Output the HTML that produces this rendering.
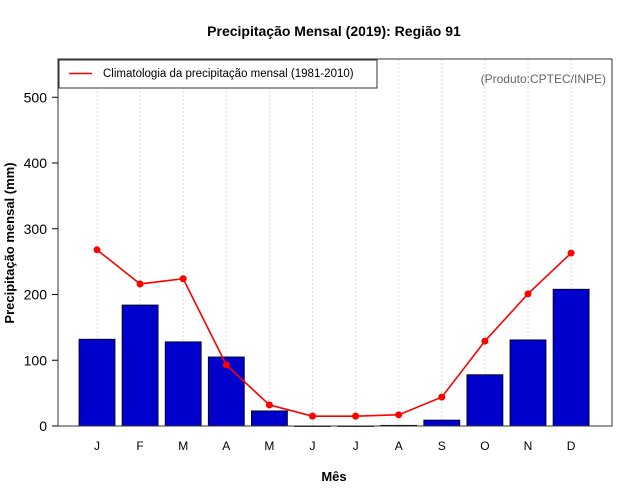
<!DOCTYPE html>
<html><head><meta charset="utf-8"><style>
body{margin:0;background:#fff;}
svg{display:block;font-family:"Liberation Sans",sans-serif;}
</style></head><body>
<svg id="chart" width="640" height="500" viewBox="0 0 640 500">
<text x="334" y="36" text-anchor="middle" font-size="14" font-weight="bold">Precipitação Mensal (2019): Região 91</text>
<text x="334" y="481" text-anchor="middle" font-size="13" font-weight="bold">Mês</text>
<text transform="translate(14,243) rotate(-90)" text-anchor="middle" font-size="13" font-weight="bold">Precipitação mensal (mm)</text>
<g id="grid"></g><g id="bars"></g><g id="line"></g><g id="axes"></g>
<rect x="58" y="59" width="554" height="367" fill="none" stroke="#333" stroke-width="1"/>
<g>
<rect x="59" y="60" width="318" height="28" fill="#fff" stroke="#333"/>
<line x1="69" y1="73.5" x2="92" y2="73.5" stroke="#f00" stroke-width="1.5"/>
<text x="103" y="77" font-size="11.5">Climatologia da precipitação mensal (1981-2010)</text>
</g>
<text x="606" y="83" text-anchor="end" font-size="12" fill="#666">(Produto:CPTEC/INPE)</text>
</svg>
<script>
const months=["J","F","M","A","M","J","J","A","S","O","N","D"];
const precip2019=[132,184,128,105,23,0,0,1,9,78,131,208];
const climatology=[268,216,224,93,32,15,15,17,44,129,201,263];
const yTicks=[0,100,200,300,400,500];
const NS="http://www.w3.org/2000/svg";
function xs(i){return 97+i*43.1;}
function ys(v){return 426-v*0.6575;}
function mk(tag,attrs,parent){const e=document.createElementNS(NS,tag);for(const k in attrs)e.setAttribute(k,attrs[k]);document.getElementById(parent).appendChild(e);return e;}
months.forEach((m,i)=>{
 const g=mk('line',{x1:xs(i),x2:xs(i),y1:59,y2:426,stroke:'#ddd','stroke-dasharray':'2,2'},'grid');
 
 
 const h=ys(0)-ys(precip2019[i]);
 const b=mk('rect',{x:xs(i)-18,y:ys(precip2019[i]),width:36,height:Math.max(h,0.5),fill:'#0000cd',stroke:'#000','stroke-width':0.8},'bars');
 
 
 const t=mk('text',{x:xs(i),y:450,'text-anchor':'middle','font-size':12},'axes');
 t.textContent=m;
 
 
});
const pl=mk('polyline',{points:climatology.map((v,i)=>xs(i)+','+ys(v)).join(' '),fill:'none',stroke:'#f00','stroke-width':1.6},'line');


climatology.forEach((v,i)=>{
 const c=mk('circle',{cx:xs(i),cy:ys(v),r:3.5,fill:'#f00'},'line');
 
 
});
yTicks.forEach(v=>{
 const l=mk('line',{x1:52,x2:58,y1:ys(v),y2:ys(v),stroke:'#000'},'axes');
 
 
 const t=mk('text',{x:47,y:ys(v)+5,'text-anchor':'end','font-size':14},'axes');
 t.textContent=v;
 
 
});
const ax=mk('line',{x1:58,x2:58,y1:ys(0),y2:ys(500),stroke:'#000'},'axes');


</script>
</body></html>
